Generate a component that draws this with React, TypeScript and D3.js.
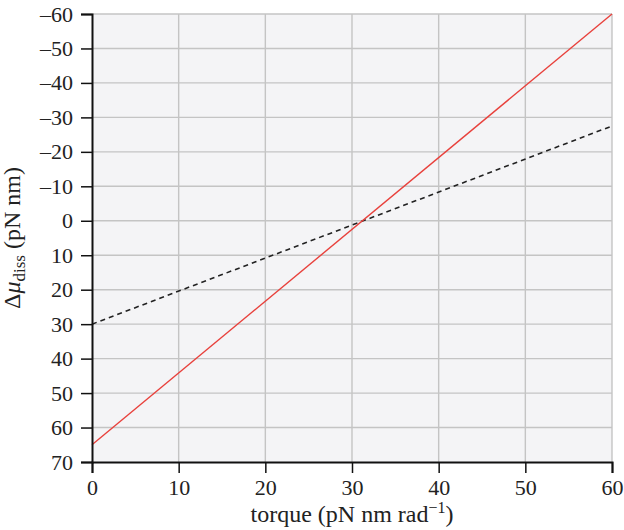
import React, { useEffect, useRef } from 'react';
import * as d3 from 'd3';

const torque = [0, 60];
const redSeries = [65, -60];
const dashedSeries = [30, -27.5];
const xTicks = [0, 10, 20, 30, 40, 50, 60];
const yTicks = [-60, -50, -40, -30, -20, -10, 0, 10, 20, 30, 40, 50, 60, 70];

const W = 624;
const H = 530;
const margin = { top: 14, right: 12, bottom: 68, left: 92 };
const font = '"Liberation Serif", "DejaVu Serif", serif';

const drawChart = (svgEl: SVGSVGElement) => {
	const svg = d3.select(svgEl);
	svg.selectAll('*').remove();

	const x = d3.scaleLinear().domain([0, 60]).range([margin.left, W - margin.right]);
	const y = d3.scaleLinear().domain([-60, 70]).range([margin.top, H - margin.bottom]);

	svg.append('rect')
		.attr('x', x(0)).attr('y', y(-60))
		.attr('width', x(60) - x(0)).attr('height', y(70) - y(-60))
		.attr('fill', '#f4f4f6');

	// grid
	svg.append('g').selectAll('line').data(xTicks.slice(1)).join('line')
		.attr('x1', (d) => x(d)).attr('x2', (d) => x(d))
		.attr('y1', y(-60)).attr('y2', y(70))
		.attr('stroke', '#c4c4c4').attr('stroke-width', 1.4);
	svg.append('g').selectAll('line').data(yTicks.slice(0, -1)).join('line')
		.attr('x1', x(0)).attr('x2', x(60))
		.attr('y1', (d) => y(d)).attr('y2', (d) => y(d))
		.attr('stroke', '#c4c4c4').attr('stroke-width', 1.4);

	const line = d3.line<number>()
		.x((d, i) => x(torque[i]))
		.y((d) => y(d));

	svg.append('path').datum(dashedSeries)
		.attr('d', line).attr('fill', 'none')
		.attr('stroke', '#222').attr('stroke-width', 1.6)
		.attr('stroke-dasharray', '5,4');
	svg.append('path').datum(redSeries)
		.attr('d', line).attr('fill', 'none')
		.attr('stroke', '#e8413c').attr('stroke-width', 1.4);

	// axes
	const xAxis = svg.append('g').attr('transform', `translate(0,${ y(70) })`);
	xAxis.call(d3.axisBottom(x).ticks(60).tickSize(7).tickFormat(() => ''));
	xAxis.call(d3.axisBottom(x).tickValues(xTicks).tickSize(11).tickFormat(d3.format('d')));
	xAxis.selectAll('.domain').attr('stroke', '#111').attr('stroke-width', 2);
	xAxis.selectAll('line').attr('stroke', '#111').attr('stroke-width', 1.5);
	xAxis.selectAll('text').attr('font-family', font).attr('font-size', 22)
		.attr('fill', '#222').attr('dy', '0.85em');

	const yAxis = svg.append('g').attr('transform', `translate(${ x(0) },0)`);
	yAxis.call(d3.axisLeft(y).tickValues(d3.range(-55, 70, 10)).tickSize(6).tickFormat(() => ''));
	yAxis.call(d3.axisLeft(y).tickValues(yTicks).tickSize(11)
		.tickFormat((d) => `${ d }`.replace('-', '\u2013')));
	yAxis.selectAll('.domain').attr('stroke', '#111').attr('stroke-width', 2);
	yAxis.selectAll('line').attr('stroke', '#111').attr('stroke-width', 1.5);
	yAxis.selectAll('text').attr('font-family', font).attr('font-size', 22)
		.attr('fill', '#222').attr('x', -19);

	// titles
	const xt = svg.append('text')
		.attr('x', (x(0) + x(60)) / 2).attr('y', H - 8)
		.attr('text-anchor', 'middle').attr('font-family', font)
		.attr('font-size', 24).attr('fill', '#222');
	xt.append('tspan').text('torque (pN nm rad');
	xt.append('tspan').attr('dy', -9).attr('font-size', 16).text('\u22121');
	xt.append('tspan').attr('dy', 9).text(')');

	const yt = svg.append('text')
		.attr('transform', `translate(20,${ (y(-60) + y(70)) / 2 }) rotate(-90)`)
		.attr('text-anchor', 'middle').attr('font-family', font)
		.attr('font-size', 24).attr('fill', '#222');
	yt.append('tspan').text('\u0394');
	yt.append('tspan').attr('font-style', 'italic').text('\u03bc');
	yt.append('tspan').attr('dy', 5).attr('font-size', 17).text('diss');
	yt.append('tspan').attr('dy', -5).text(' (pN nm)');
};

const App = () => {
	const ref = useRef<SVGSVGElement>(null);

	useEffect(() => {
		if (ref.current) drawChart(ref.current);
	}, []);

	return (
		<svg ref={ ref } width={ W } height={ H }
			style={ { position: 'absolute', left: 0, top: 0, background: '#fff' } }/>
	);
};

export default App;
